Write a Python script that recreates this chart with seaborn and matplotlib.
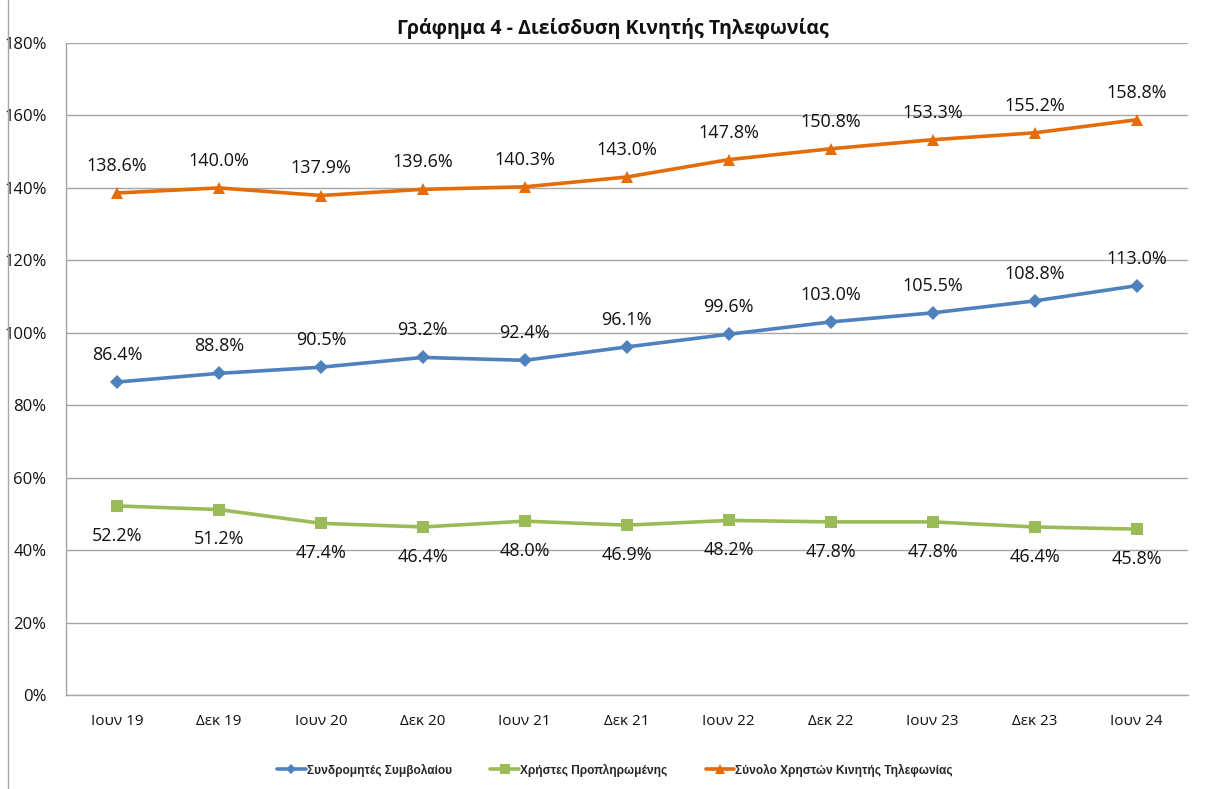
import matplotlib
matplotlib.use("Agg")
import matplotlib.pyplot as plt
import seaborn as sns
import pandas as pd
from matplotlib.lines import Line2D

categories = ["Ιουν 19", "Δεκ 19", "Ιουν 20", "Δεκ 20", "Ιουν 21", "Δεκ 21",
              "Ιουν 22", "Δεκ 22", "Ιουν 23", "Δεκ 23", "Ιουν 24"]
contract = [86.4, 88.8, 90.5, 93.2, 92.4, 96.1, 99.6, 103.0, 105.5, 108.8, 113.0]
prepaid = [52.2, 51.2, 47.4, 46.4, 48.0, 46.9, 48.2, 47.8, 47.8, 46.4, 45.8]
total = [138.6, 140.0, 137.9, 139.6, 140.3, 143.0, 147.8, 150.8, 153.3, 155.2, 158.8]
series_names = ["Συνδρομητές Συμβολαίου", "Χρήστες Προπληρωμένης",
                "Σύνολο Χρηστών Κινητής Τηλεφωνίας"]
yticks = [0, 20, 40, 60, 80, 100, 120, 140, 160, 180]

colors = {series_names[0]: "#4F81BD", series_names[1]: "#9BBB59", series_names[2]: "#E46C0A"}
markers = {series_names[0]: "D", series_names[1]: "s", series_names[2]: "^"}
msize = {series_names[0]: 7, series_names[1]: 9, series_names[2]: 9}

rows = []
for name, vals in zip(series_names, [contract, prepaid, total]):
    for i, v in enumerate(vals):
        rows.append({"idx": i, "cat": categories[i], "value": v, "series": name})
df = pd.DataFrame(rows)

sns.set_theme(style="white")
font_main = ["Open Sans", "DejaVu Sans"]
plt.rcParams["font.family"] = font_main

fig = plt.figure(figsize=(12.13, 7.89), dpi=100)
ax = fig.add_axes([0.0544, 0.1191, 0.9246, 0.8264])

for name in series_names:
    sub = df[df["series"] == name]
    sns.lineplot(data=sub, x="idx", y="value", ax=ax, color=colors[name],
                 marker=markers[name], markersize=msize[name], markeredgewidth=0,
                 linewidth=2.6, sort=False, legend=False, zorder=3)

for name, vals in zip(series_names, [contract, prepaid, total]):
    below = name == series_names[1]
    for i, v in enumerate(vals):
        ax.annotate(f"{v:.1f}%", (i, v), xytext=(0, -15 if below else 13),
                    textcoords="offset points", ha="center",
                    va="top" if below else "bottom", fontsize=13, color="#111111")

ax.set_xlim(-0.5, len(categories) - 0.5)
ax.set_ylim(0, 180)
ax.set_yticks(yticks)
ax.set_yticklabels([f"{t}%" for t in yticks], fontsize=12, color="#111111")
ax.set_xticks(range(len(categories)))
ax.set_xticklabels(categories, fontsize=11, color="#111111")
for lbl in ax.get_yticklabels():
    lbl.set_horizontalalignment("right")
ax.tick_params(axis="y", pad=14, length=0)
ax.tick_params(axis="x", pad=14, length=0)
ax.set_xlabel("")
ax.set_ylabel("")
ax.yaxis.grid(True, color="#A6A6A6", linewidth=1.0)
ax.xaxis.grid(False)
ax.set_axisbelow(True)
for s in ["top", "right"]:
    ax.spines[s].set_visible(False)
for s in ["left", "bottom"]:
    ax.spines[s].set_color("#A6A6A6")
    ax.spines[s].set_linewidth(1.0)

fig.text(0.505, 0.964, "Γράφημα 4 - Διείσδυση Κινητής Τηλεφωνίας", ha="center",
         va="center", fontsize=14, fontweight="bold", color="#111111")

handles = [Line2D([0], [0], color=colors[n], marker=markers[n], markersize=msize[n] * 0.8,
                  markeredgewidth=0, linewidth=2.6) for n in series_names]
fig.legend(handles, series_names, loc="center", bbox_to_anchor=(0.507, 0.024), ncol=3,
           frameon=False, handlelength=2.4, columnspacing=3.2, handletextpad=0.1,
           prop={"family": ["Liberation Sans Narrow", "Liberation Sans"],
                 "weight": "bold", "size": 8.6})

fig.add_artist(Line2D([8 / 1213, 8 / 1213], [0, 1], transform=fig.transFigure,
                      color="#A6A6A6", linewidth=1.0))

fig.savefig("out.png", dpi=100)
